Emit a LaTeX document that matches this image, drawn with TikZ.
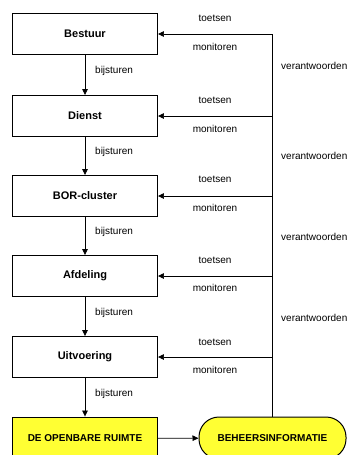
\documentclass[tikz,border=0pt]{standalone}
\usepackage{fontspec}
\setmainfont{Liberation Sans}
\usetikzlibrary{positioning, arrows.meta}
\definecolor{infoyellow}{RGB}{255,255,51}

\begin{document}
\begin{tikzpicture}[x=1pt, y=-1pt,
        level/.style={draw, line width=0.9pt, minimum width=145pt, minimum height=41pt,
            inner sep=0pt, font=\bfseries\fontsize{11}{13}\selectfont},
        ground/.style={level, fill=infoyellow, minimum height=43pt,
            font=\bfseries\fontsize{10}{12}\selectfont},
        infoblob/.style={draw, line width=1pt, fill=infoyellow, rounded corners=20pt,
            minimum width=147pt, minimum height=42pt, inner sep=0pt,
            font=\bfseries\fontsize{10}{12}\selectfont},
        flow/.style={-{Triangle[length=6pt, width=5.5pt]}, line width=0.7pt},
        lbl/.style={inner sep=0pt, font=\fontsize{10}{12}\selectfont}
    ]
    \useasboundingbox (0,0) rectangle (349,455);

    % Management levels, top to bottom
    \node[level] (bestuur)    at (85,34)  {Bestuur};
    \node[level] (dienst)     at (85,116) {Dienst};
    \node[level] (cluster)    at (85,196) {BOR-cluster};
    \node[level] (afdeling)   at (85,276) {Afdeling};
    \node[level] (uitvoering) at (85,357) {Uitvoering};

    % Public space and management information
    \node[ground] (ruimte) at (85,438.5) {DE OPENBARE RUIMTE};
    \node[infoblob] (info) at (272.5,438) {BEHEERSINFORMATIE};

    % Steering downwards
    \draw[flow] (bestuur) -- (dienst);
    \draw[flow] (dienst) -- (cluster);
    \draw[flow] (cluster) -- (afdeling);
    \draw[flow] (afdeling) -- (uitvoering);
    \draw[flow] (uitvoering) -- (ruimte);
    \draw[flow] (ruimte) -- (info);

    \node[lbl, anchor=west] (bij1) at (95,71)  {bijsturen};
    \node[lbl, anchor=west] (bij2) at (95,152) {bijsturen};
    \node[lbl, anchor=west] (bij3) at (95,232) {bijsturen};
    \node[lbl, anchor=west] (bij4) at (95,313) {bijsturen};
    \node[lbl, anchor=west] (bij5) at (95,394) {bijsturen};

    % Feedback line back up to every level
    \draw[flow] (info.north) -- (info.north |- bestuur.east) -- (bestuur.east);
    \draw[flow] (info.north |- dienst.east) -- (dienst.east);
    \draw[flow] (info.north |- cluster.east) -- (cluster.east);
    \draw[flow] (info.north |- afdeling.east) -- (afdeling.east);
    \draw[flow] (info.north |- uitvoering.east) -- (uitvoering.east);

    \node[lbl] (toe1) at (215,18)  {toetsen};
    \node[lbl] (mon1) at (215,47)  {monitoren};
    \node[lbl] (toe2) at (215,100) {toetsen};
    \node[lbl] (mon2) at (215,129) {monitoren};
    \node[lbl] (toe3) at (215,179) {toetsen};
    \node[lbl] (mon3) at (215,208) {monitoren};
    \node[lbl] (toe4) at (215,260) {toetsen};
    \node[lbl] (mon4) at (215,288) {monitoren};
    \node[lbl] (toe5) at (215,342) {toetsen};
    \node[lbl] (mon5) at (215,370) {monitoren};

    \node[lbl, anchor=west] (ver1) at (281,66)  {verantwoorden};
    \node[lbl, anchor=west] (ver2) at (281,156) {verantwoorden};
    \node[lbl, anchor=west] (ver3) at (281,237) {verantwoorden};
    \node[lbl, anchor=west] (ver4) at (281,318) {verantwoorden};
\end{tikzpicture}
\end{document}
